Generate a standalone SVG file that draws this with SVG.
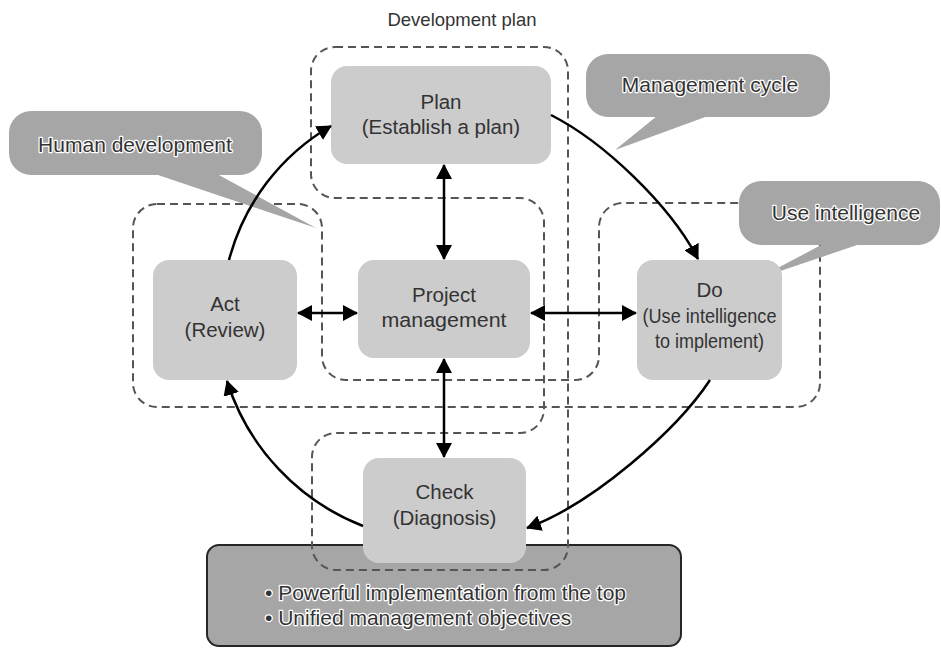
<svg xmlns="http://www.w3.org/2000/svg" width="941" height="648" viewBox="0 0 941 648">
<defs>
<style>
.grp{fill:none;stroke:#555555;stroke-width:2;stroke-dasharray:8 5}
.node{fill:#cccccc}
.call{fill:#a6a6a6}
.nt{font-family:"Liberation Sans",Arial,sans-serif;font-size:20.5px;fill:#333333;text-anchor:middle}
.halo{font-family:"Liberation Sans",Arial,sans-serif;font-size:21px;fill:#333333;stroke:#ffffff;stroke-width:2.5;paint-order:stroke;stroke-linejoin:round}
.title{font-family:"Liberation Sans",Arial,sans-serif;font-size:18.5px;fill:#333333;text-anchor:middle}
.conn{fill:none;stroke:#000;stroke-width:2.5}
</style>
<marker id="ah" markerWidth="16" markerHeight="16" refX="14" refY="8" orient="auto-start-reverse" markerUnits="userSpaceOnUse">
<path d="M0,0 L15,8 L0,16 z" fill="#000"/>
</marker>
</defs>
<rect width="941" height="648" fill="#ffffff"/>

<g id="objectives">
<rect x="207" y="545" width="474" height="101" rx="12" fill="#a6a6a6" stroke="#262626" stroke-width="2"/>
<text class="halo" x="265" y="600">• Powerful implementation from the top</text>
<text class="halo" x="265" y="625">• Unified management objectives</text>
</g>

<g id="development-plan">
<path class="grp" d="M335,47 H544 A24,24 0 0 1 568,71 V546 A24,24 0 0 1 544,570 H336 A24,24 0 0 1 312,546 V457 A24,24 0 0 1 336,433 H520 A24,24 0 0 0 544,409 V222 A24,24 0 0 0 520,198 H335 A24,24 0 0 1 311,174 V71 A24,24 0 0 1 335,47 Z"/>
<text class="title" x="462" y="26">Development plan</text>
</g>

<g id="act-do-group">
<path class="grp" d="M157,204 H298 A24,24 0 0 1 322,228 V356 A24,24 0 0 0 346,380 H575 A24,24 0 0 0 599,356 V227 A24,24 0 0 1 623,203 H796 A24,24 0 0 1 820,227 V383 A24,24 0 0 1 796,407 H157 A24,24 0 0 1 133,383 V228 A24,24 0 0 1 157,204 Z"/>
</g>

<g id="callout-human">
<rect class="call" x="9" y="111" width="253" height="64" rx="22"/>
<polygon class="call" points="155,174 217,174 316,228"/>
<text class="halo" x="135" y="152" text-anchor="middle">Human development</text>
</g>

<g id="callout-cycle">
<rect class="call" x="586" y="54" width="244" height="63" rx="22"/>
<polygon class="call" points="657,116 708,116 615,150"/>
<text class="halo" x="710" y="92" text-anchor="middle">Management cycle</text>
</g>

<g id="callout-intelligence">
<rect class="call" x="739" y="181" width="201" height="64" rx="22"/>
<polygon class="call" points="823,244 860,244 757,279"/>
<text class="halo" x="846" y="220" text-anchor="middle">Use intelligence</text>
</g>

<g id="plan">
<rect class="node" x="331" y="66" width="220" height="98" rx="16"/>
<text class="nt" x="441" y="109">Plan</text>
<text class="nt" x="441" y="134">(Establish a plan)</text>
</g>

<g id="act">
<rect class="node" x="153" y="260" width="144" height="120" rx="16"/>
<text class="nt" x="225" y="311">Act</text>
<text class="nt" x="225" y="337">(Review)</text>
</g>

<g id="project-management">
<rect class="node" x="358" y="260" width="172" height="98" rx="16"/>
<text class="nt" x="444" y="302">Project</text>
<text class="nt" x="444" y="327" textLength="125" lengthAdjust="spacingAndGlyphs">management</text>
</g>

<g id="do">
<rect class="node" x="637" y="260" width="145" height="120" rx="16"/>
<text class="nt" x="709.5" y="297">Do</text>
<text class="nt" x="709.5" y="323" textLength="134" lengthAdjust="spacingAndGlyphs">(Use intelligence</text>
<text class="nt" x="709.5" y="348" textLength="109" lengthAdjust="spacingAndGlyphs">to implement)</text>
</g>

<g id="check">
<rect class="node" x="363" y="458" width="163" height="105" rx="16"/>
<text class="nt" x="444.5" y="499">Check</text>
<text class="nt" x="444.5" y="525">(Diagnosis)</text>
</g>

<g id="connectors">
<line class="conn" x1="444" y1="165" x2="444" y2="259" marker-start="url(#ah)" marker-end="url(#ah)"/>
<line class="conn" x1="444" y1="359" x2="444" y2="457" marker-start="url(#ah)" marker-end="url(#ah)"/>
<line class="conn" x1="298" y1="313" x2="357" y2="313" marker-start="url(#ah)" marker-end="url(#ah)"/>
<line class="conn" x1="531" y1="313" x2="636" y2="313" marker-start="url(#ah)" marker-end="url(#ah)"/>
<path class="conn" d="M229,260 A220,220 0 0 1 331,126" marker-end="url(#ah)"/>
<path class="conn" d="M551,115 C604,142 670,205 698,259" marker-end="url(#ah)"/>
<path class="conn" d="M710,380 C677,430 593,504 527,528" marker-end="url(#ah)"/>
<path class="conn" d="M363,526 A230,230 0 0 1 227,381" marker-end="url(#ah)"/>
</g>
</svg>
